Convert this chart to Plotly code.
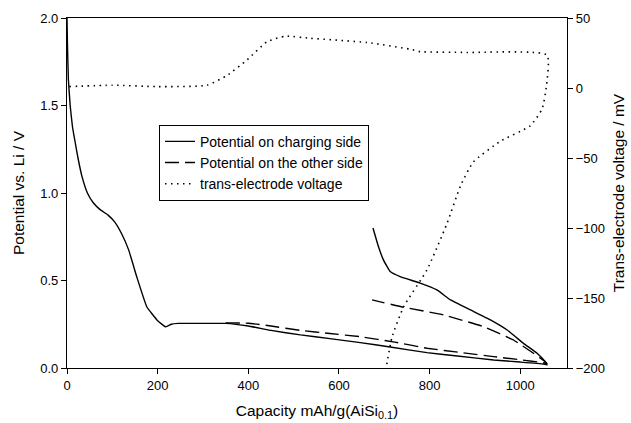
import plotly.graph_objects as go

# Potential on charging side (solid)
chg_cap = [0, 1, 3, 7, 12, 18, 25, 33, 45, 58, 73, 90, 105, 120, 136, 154, 176, 200, 218, 230, 245,
           300, 350, 400, 450, 515, 580, 647, 713, 794, 856, 941, 1000, 1051, 1059,
           1055, 1037, 1007, 971, 934, 890, 846, 816, 779, 735, 713, 698, 687, 675]
chg_v = [2.0, 1.85, 1.65, 1.5, 1.38, 1.29, 1.19, 1.095, 1.0, 0.944, 0.905, 0.875, 0.835, 0.77, 0.675, 0.52, 0.35, 0.27, 0.235, 0.25, 0.255,
         0.255, 0.255, 0.24, 0.215, 0.189, 0.168, 0.145, 0.12, 0.088, 0.07, 0.046, 0.034, 0.023, 0.018,
         0.036, 0.084, 0.141, 0.217, 0.275, 0.332, 0.389, 0.446, 0.485, 0.522, 0.551, 0.618, 0.694, 0.80]

# Potential on the other side (dashed)
oth_cap = [350, 400, 450, 515, 580, 647, 723, 794, 870, 941, 1000, 1051, 1059,
           1055, 1029, 985, 919, 831, 743, 673]
oth_v = [0.258, 0.256, 0.24, 0.215, 0.197, 0.179, 0.148, 0.113, 0.088, 0.065, 0.047, 0.03, 0.026,
         0.036, 0.084, 0.16, 0.236, 0.303, 0.347, 0.389]

# Trans-electrode voltage (dotted, right axis, mV)
tev_cap = [5, 100, 200, 309, 353, 397, 441, 482, 537, 662, 757, 779, 882, 1059,
           1057, 1048, 1022, 956, 896, 868, 838, 794, 743, 717, 704]
tev_mv = [1, 2, 1, 2, 9, 20, 33, 37, 35.5, 32.5, 27.7, 26, 25.4, 23.5,
          0, -15, -27, -38, -53, -70, -97, -130, -156, -178, -200]

FONT = "Arial, Liberation Sans, sans-serif"

fig = go.Figure()
fig.add_trace(go.Scatter(x=chg_cap, y=chg_v, mode="lines", name="Potential on charging side",
                         line=dict(color="black", width=1.4, shape="spline", smoothing=0.3)))
fig.add_trace(go.Scatter(x=oth_cap, y=oth_v, mode="lines", name="Potential on the other side",
                         line=dict(color="black", width=1.4, dash="14px,6px", shape="spline", smoothing=0.3)))
fig.add_trace(go.Scatter(x=tev_cap, y=tev_mv, mode="lines", name="trans-electrode voltage", yaxis="y2",
                         line=dict(color="black", width=1.6, dash="1.5px,4.5px", shape="spline", smoothing=0.5)))

axis_common = dict(showline=True, linecolor="black", linewidth=1.2, ticks="outside", ticklen=5,
                   tickcolor="black", showgrid=False, zeroline=False, automargin=False,
                   tickfont=dict(family=FONT, size=13, color="black"))

fig.update_layout(
    width=631, height=423,
    margin=dict(l=67, r=64, t=18, b=55),
    paper_bgcolor="white", plot_bgcolor="white",
    font=dict(family=FONT, color="black"),
    showlegend=True,
    legend=dict(x=0.184, y=0.695, xanchor="left", yanchor="top",
                bordercolor="black", borderwidth=1, bgcolor="white", itemwidth=30,
                font=dict(family=FONT, size=14, color="black"), tracegroupgap=0),
    xaxis=dict(range=[0, 1103], tickvals=[0, 200, 400, 600, 800, 1000], mirror=True,
               title=dict(text="Capacity mAh/g(AiSi<sub>0.1</sub>)", font=dict(family=FONT, size=15.5), standoff=13),
               **axis_common),
    yaxis=dict(range=[0, 2.0], tickvals=[0, 0.5, 1.0, 1.5, 2.0], tickformat=".1f",
               title=dict(text="Potential vs. Li / V", font=dict(family=FONT, size=15.5), standoff=11),
               **axis_common),
    yaxis2=dict(range=[-200, 50], tickvals=[-200, -150, -100, -50, 0, 50], overlaying="y", side="right",
                title=dict(text="Trans-electrode voltage / mV", font=dict(family=FONT, size=15.5), standoff=9),
                **axis_common),
)

fig.write_html("out.html")
